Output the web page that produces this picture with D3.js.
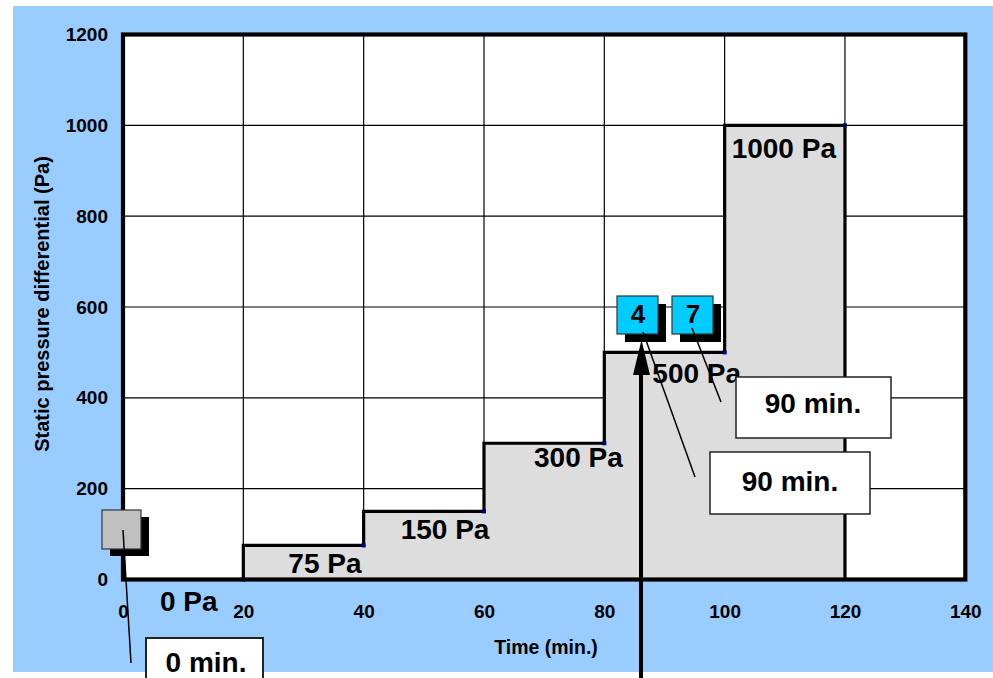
<!DOCTYPE html>
<html>
<head>
<meta charset="utf-8">
<script src="https://cdn.jsdelivr.net/npm/d3@7"></script>
<style>
  html, body { margin: 0; padding: 0; background: #ffffff; }
  svg { display: block; }
  text { font-family: "Liberation Sans", Arial, sans-serif; font-weight: bold; fill: #000; }
</style>
</head>
<body>
<svg id="chart" width="993" height="678"></svg>
<script>
// ---------------- data ----------------
const stepStartTimes = [20, 40, 60, 80, 100];      // minutes where each pressure step begins
const stepEndTime = 120;
const stepPressures = [75, 150, 300, 500, 1000];    // Pa
const levelLabels = ["0 Pa", "75 Pa", "150 Pa", "300 Pa", "500 Pa", "1000 Pa"];
const levelTimes = [0, 20, 40, 60, 80, 100];
const levelPressures = [0, 75, 150, 300, 500, 1000];
const xTicks = [0, 20, 40, 60, 80, 100, 120, 140];
const yTicks = [0, 200, 400, 600, 800, 1000, 1200];
const xTitle = "Time (min.)";
const yTitle = "Static pressure differential (Pa)";
const calloutTexts = ["0 min.", "90 min.", "90 min."];
const markerTexts = ["4", "7"];

// ---------------- layout ----------------
const W = 993, H = 678;
const plot = { left: 123, right: 965.3, top: 34.5, bottom: 579.5 };
const labelOffsets = [[37, 31], [45, 28], [37, 28], [50, 24], [48, 31], [7, 33]];

const svg = d3.select("#chart");
const x = d3.scaleLinear().domain([0, 140]).range([plot.left, plot.right]);
const y = d3.scaleLinear().domain([0, 1200]).range([plot.bottom, plot.top]);

// backgrounds
svg.append("rect").attr("x", 0).attr("y", 0).attr("width", W).attr("height", H).attr("fill", "#ffffff");
svg.append("rect").attr("x", 13).attr("y", 6).attr("width", W - 13).attr("height", 666).attr("fill", "#99CCFF");
svg.append("rect").attr("x", plot.left).attr("y", plot.top)
   .attr("width", plot.right - plot.left).attr("height", plot.bottom - plot.top).attr("fill", "#ffffff");

// gridlines
const grid = svg.append("g").attr("stroke", "#000").attr("stroke-width", 1.2);
xTicks.filter(t => t > 0 && t < 140).forEach(t => {
  grid.append("line").attr("x1", x(t)).attr("x2", x(t)).attr("y1", y(0)).attr("y2", y(1200));
});
yTicks.filter(t => t > 0 && t < 1200).forEach(t => {
  grid.append("line").attr("x1", x(0)).attr("x2", x(140)).attr("y1", y(t)).attr("y2", y(t));
});

// step area
const pts = [[stepStartTimes[0], 0]];
stepPressures.forEach((p, i) => {
  const t0 = stepStartTimes[i];
  const t1 = i + 1 < stepStartTimes.length ? stepStartTimes[i + 1] : stepEndTime;
  pts.push([t0, p]);
  pts.push([t1, p]);
});
pts.push([stepEndTime, 0]);
const lineGen = d3.line().x(d => x(d[0])).y(d => y(d[1]));
svg.append("path").attr("d", lineGen(pts) + "Z")
   .attr("fill", "#DDDDDD").attr("stroke", "#000").attr("stroke-width", 3.2)
   .attr("stroke-linejoin", "miter");

// small series markers
const markerPts = [[stepStartTimes[0], 0]].concat(stepPressures.map((p, i) => [i + 1 < stepStartTimes.length ? stepStartTimes[i + 1] : stepEndTime, p]));
svg.append("g").selectAll("rect").data(markerPts).join("rect")
   .attr("x", d => x(d[0]) - 2).attr("y", d => y(d[1]) - 2).attr("width", 4).attr("height", 4)
   .attr("fill", "#000080");

// plot border
svg.append("rect").attr("x", plot.left).attr("y", plot.top)
   .attr("width", plot.right - plot.left).attr("height", plot.bottom - plot.top)
   .attr("fill", "none").attr("stroke", "#000").attr("stroke-width", 4.2);

// axes tick labels
const yAxis = svg.append("g").attr("transform", `translate(${plot.left},0)`)
  .call(d3.axisLeft(y).tickValues(yTicks).tickSize(0).tickPadding(15).tickFormat(d3.format("d")));
yAxis.select(".domain").remove();
yAxis.selectAll("text").attr("font-size", 19).style("font-family", "Liberation Sans, Arial, sans-serif").style("font-weight", "bold");

const xAxis = svg.append("g").attr("transform", `translate(0,${plot.bottom})`)
  .call(d3.axisBottom(x).tickValues(xTicks).tickSize(0).tickPadding(25).tickFormat(d3.format("d")));
xAxis.select(".domain").remove();
xAxis.selectAll("text").attr("font-size", 19).style("font-family", "Liberation Sans, Arial, sans-serif").style("font-weight", "bold");

// axis titles
svg.append("text").attr("x", 546).attr("y", 654).attr("text-anchor", "middle")
   .attr("font-size", 19.5).text(xTitle);
svg.append("text").attr("transform", "translate(49,304) rotate(-90)").attr("text-anchor", "middle")
   .attr("font-size", 20).text(yTitle);

// level labels
svg.append("g").selectAll("text").data(levelLabels).join("text")
   .attr("x", (d, i) => x(levelTimes[i]) + labelOffsets[i][0])
   .attr("y", (d, i) => y(levelPressures[i]) + labelOffsets[i][1])
   .attr("font-size", 28).text(d => d);

// gray marker box with shadow
svg.append("rect").attr("x", 110).attr("y", 517).attr("width", 39).attr("height", 39).attr("fill", "#000");
svg.append("rect").attr("x", 102).attr("y", 510).attr("width", 39).attr("height", 39)
   .attr("fill", "#C0C0C0").attr("stroke", "#333").attr("stroke-width", 1.2);

// blue marker boxes with shadow
const blueBoxes = [{ x: 617, y: 296 }, { x: 672, y: 296 }];
blueBoxes.forEach((b, i) => {
  svg.append("rect").attr("x", b.x + 8).attr("y", b.y + 8).attr("width", 41).attr("height", 38).attr("fill", "#000");
  svg.append("rect").attr("x", b.x).attr("y", b.y).attr("width", 41).attr("height", 38)
     .attr("fill", "#00CCFF").attr("stroke", "#333").attr("stroke-width", 1.2);
  svg.append("text").attr("x", b.x + 21).attr("y", b.y + 27).attr("text-anchor", "middle")
     .attr("font-size", 26).text(markerTexts[i]);
});

// leader lines
const leaders = [[123, 530, 131, 663], [643, 332, 695, 477], [692, 328, 721, 402]];
leaders.forEach(l => {
  svg.append("line").attr("x1", l[0]).attr("y1", l[1]).attr("x2", l[2]).attr("y2", l[3])
     .attr("stroke", "#000").attr("stroke-width", 1.5);
});

// callout boxes
const callouts = [
  { x: 146, y: 638, w: 117, h: 50, tx: 206, ty: 672, sw: 2 },
  { x: 736, y: 377, w: 155, h: 61, tx: 813, ty: 413, sw: 1.5 },
  { x: 710, y: 452, w: 160, h: 62, tx: 790, ty: 491, sw: 1.5 }
];
callouts.forEach((c, i) => {
  svg.append("rect").attr("x", c.x).attr("y", c.y).attr("width", c.w).attr("height", c.h)
     .attr("fill", "#fff").attr("stroke", "#222").attr("stroke-width", c.sw);
  svg.append("text").attr("x", c.tx).attr("y", c.ty).attr("text-anchor", "middle")
     .attr("font-size", 28).text(calloutTexts[i]);
});

// arrow
svg.append("line").attr("x1", 641).attr("x2", 641).attr("y1", 678).attr("y2", 370)
   .attr("stroke", "#000").attr("stroke-width", 4);
svg.append("path").attr("d", "M641.5,340 L633,375 L650,375 Z").attr("fill", "#000");
</script>
</body>
</html>
